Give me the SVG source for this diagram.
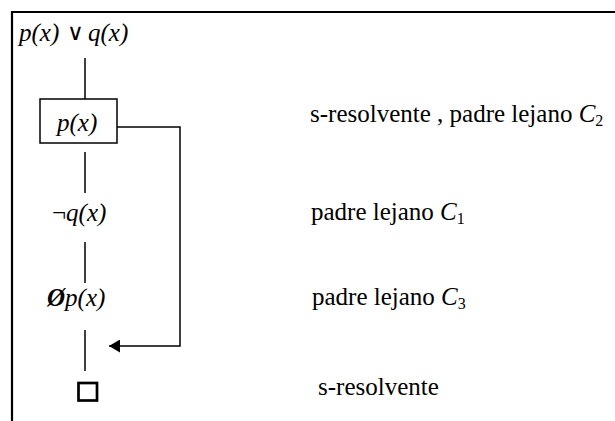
<svg xmlns="http://www.w3.org/2000/svg" width="615" height="421" viewBox="0 0 615 421">
  <style>
    text { font-family: "Liberation Serif", "Times New Roman", serif; font-size: 25px; fill: #000; }
    .it { font-style: italic; }
    .op { font-family: "DejaVu Sans", sans-serif; font-size: 23px; font-style: normal; font-weight: 300; }
    .sub { font-size: 16px; font-style: normal; }
    .frame { fill: none; stroke: #000; stroke-width: 2.2; }
    .link { fill: none; stroke: #000; stroke-width: 1.5; }
    .box { fill: #fff; stroke: #000; stroke-width: 1.5; }
    .empty { fill: none; stroke: #000; stroke-width: 2.7; }
  </style>
  <defs>
    <marker id="head" viewBox="0 0 11 13" refX="11" refY="6.5" markerWidth="11" markerHeight="13" markerUnits="userSpaceOnUse" orient="auto">
      <path d="M0,0 L11,6.5 L0,13 Z" fill="#000"/>
    </marker>
  </defs>

  <rect width="615" height="421" fill="#fff"/>

  <!-- open frame: top and left edges -->
  <path class="frame" d="M615,12 H12 V421"/>

  <g id="connectors">
    <line class="link" x1="85" y1="58" x2="85" y2="99"/>
    <line class="link" x1="85" y1="152" x2="85" y2="193"/>
    <line class="link" x1="85" y1="242" x2="85" y2="283"/>
    <line class="link" x1="85" y1="330" x2="85" y2="371"/>
    <path class="link" d="M117,127 H180 V346 H109" marker-end="url(#head)"/>
  </g>

  <g id="root">
    <text class="it" x="19" y="41">p(x)<tspan class="op" x="67" y="40">∨</tspan><tspan x="88" y="41">q(x)</tspan></text>
  </g>

  <g id="node-p">
    <rect class="box" x="40" y="99" width="77" height="44"/>
    <text class="it" x="57" y="131">p(x)</text>
  </g>

  <g id="node-notq">
    <text x="52" y="221">¬<tspan class="it">q(x)</tspan></text>
  </g>

  <g id="node-emptyp">
    <text x="47" y="306"><tspan font-weight="bold" font-style="italic">Ø</tspan><tspan class="it">p(x)</tspan></text>
  </g>

  <g id="node-empty">
    <rect class="empty" x="78.5" y="383" width="18.5" height="17.5"/>
  </g>

  <g id="labels">
    <text x="310" y="122">s-resolvente , padre lejano <tspan class="it">C</tspan><tspan class="sub" dy="4">2</tspan></text>
    <text x="311" y="220">padre lejano <tspan class="it">C</tspan><tspan class="sub" dy="4">1</tspan></text>
    <text x="312" y="305">padre lejano <tspan class="it">C</tspan><tspan class="sub" dy="4">3</tspan></text>
    <text x="318" y="395">s-resolvente</text>
  </g>
</svg>
